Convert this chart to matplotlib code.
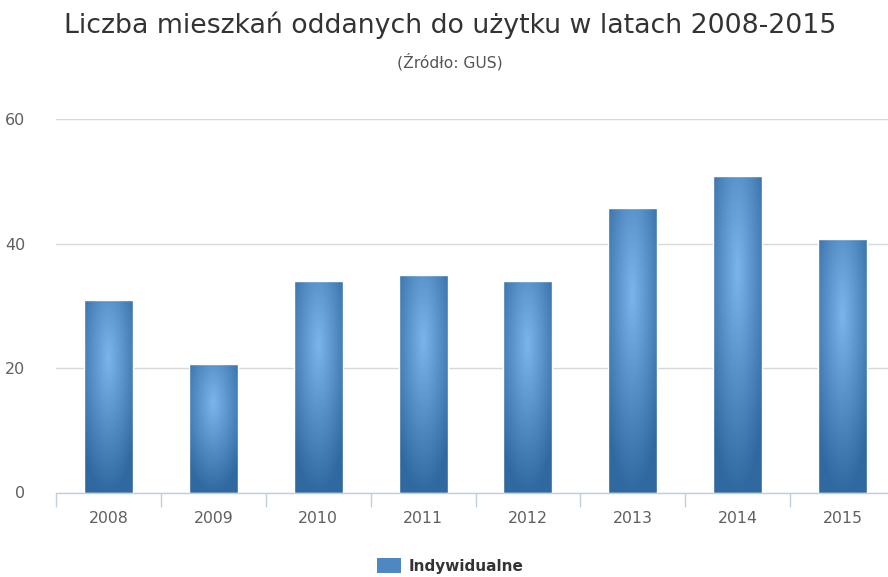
import numpy as np
import matplotlib
matplotlib.use("Agg")
from matplotlib import pyplot as plt
from matplotlib.colors import to_rgb
from matplotlib.patches import Patch

# dane (tys. mieszkań)
years = ["2008", "2009", "2010", "2011", "2012", "2013", "2014", "2015"]
indywidualne = [30.9, 20.7, 33.9, 34.9, 33.9, 45.7, 50.9, 40.8]
y_ticks = [0, 20, 40, 60]

title = "Liczba mieszkań oddanych do użytku w latach 2008-2015"
subtitle = "(Źródło: GUS)"
series_name = "Indywidualne"

light = np.array(to_rgb("#7cb5ec"))
dark = np.array(to_rgb("#2f699f"))

plt.rcParams["font.family"] = ["DejaVu Sans"]

W, H = 888, 577
fig = plt.figure(figsize=(W / 100, H / 100), dpi=100)
ax = fig.add_axes([56 / W, 1 - 492.5 / H, (895 - 56) / W, (492.5 - 119) / H])

x = np.arange(len(years))
bars = ax.bar(x, indywidualne, width=0.467, color="none", edgecolor="white", linewidth=1, zorder=3)

# gradient radialny jak w highcharts (cx=0.5, cy=0.3, r=0.7)
u = np.linspace(0, 1, 60)
f = np.linspace(0, 1, 200)
uu, ff = np.meshgrid(u, f)
t = np.clip(np.sqrt(((uu - 0.5) / 0.7) ** 2 + ((ff - 0.3) / 0.7) ** 2), 0, 1)
grad = light[None, None, :] * (1 - t[..., None]) + dark[None, None, :] * t[..., None]

for b in bars:
    x0, y0 = b.get_x(), b.get_y()
    w, h = b.get_width(), b.get_height()
    im = ax.imshow(grad, extent=[x0, x0 + w, y0, y0 + h], origin="upper", aspect="auto",
                   interpolation="bilinear", zorder=2.5)
    im.set_clip_path(b)

ax.set_xlim(-0.5, len(years) - 0.5)
ax.set_ylim(0, 60)
ax.set_yticks(y_ticks)
ax.set_xticks(x)
ax.set_xticklabels(years)
ax.set_xticks(np.arange(len(years) + 1) - 0.5, minor=True)

ax.tick_params(axis="x", which="major", length=0, pad=13, labelsize=11.3, labelcolor="#606060")
ax.tick_params(axis="x", which="minor", length=10, width=1, color="#c0d0e0")
ax.tick_params(axis="y", length=0, pad=22, labelsize=11.5, labelcolor="#606060")

ax.set_axisbelow(True)
ax.yaxis.grid(True, color="#d8d8d8", linewidth=1)
for s in ["top", "right", "left"]:
    ax.spines[s].set_visible(False)
ax.spines["bottom"].set_color("#c0d0e0")
ax.spines["bottom"].set_linewidth(1)
ax.spines["bottom"].set_zorder(4)

fig.text(450 / W, 1 - 25 / H, title, ha="center", va="center", fontsize=19.3, color="#333333")
fig.text(450 / W, 1 - 62 / H, subtitle, ha="center", va="center", fontsize=11.2, color="#555555")

fig.legend(handles=[Patch(facecolor="#4f87c3", edgecolor="none", label=series_name)],
           loc="center", bbox_to_anchor=(450 / W, 1 - 566 / H), frameon=False,
           prop={"size": 11, "weight": "bold"}, labelcolor="#333333",
           handlelength=1.6, handleheight=1.05, handletextpad=0.5)

fig.savefig("out.png", dpi=100)
